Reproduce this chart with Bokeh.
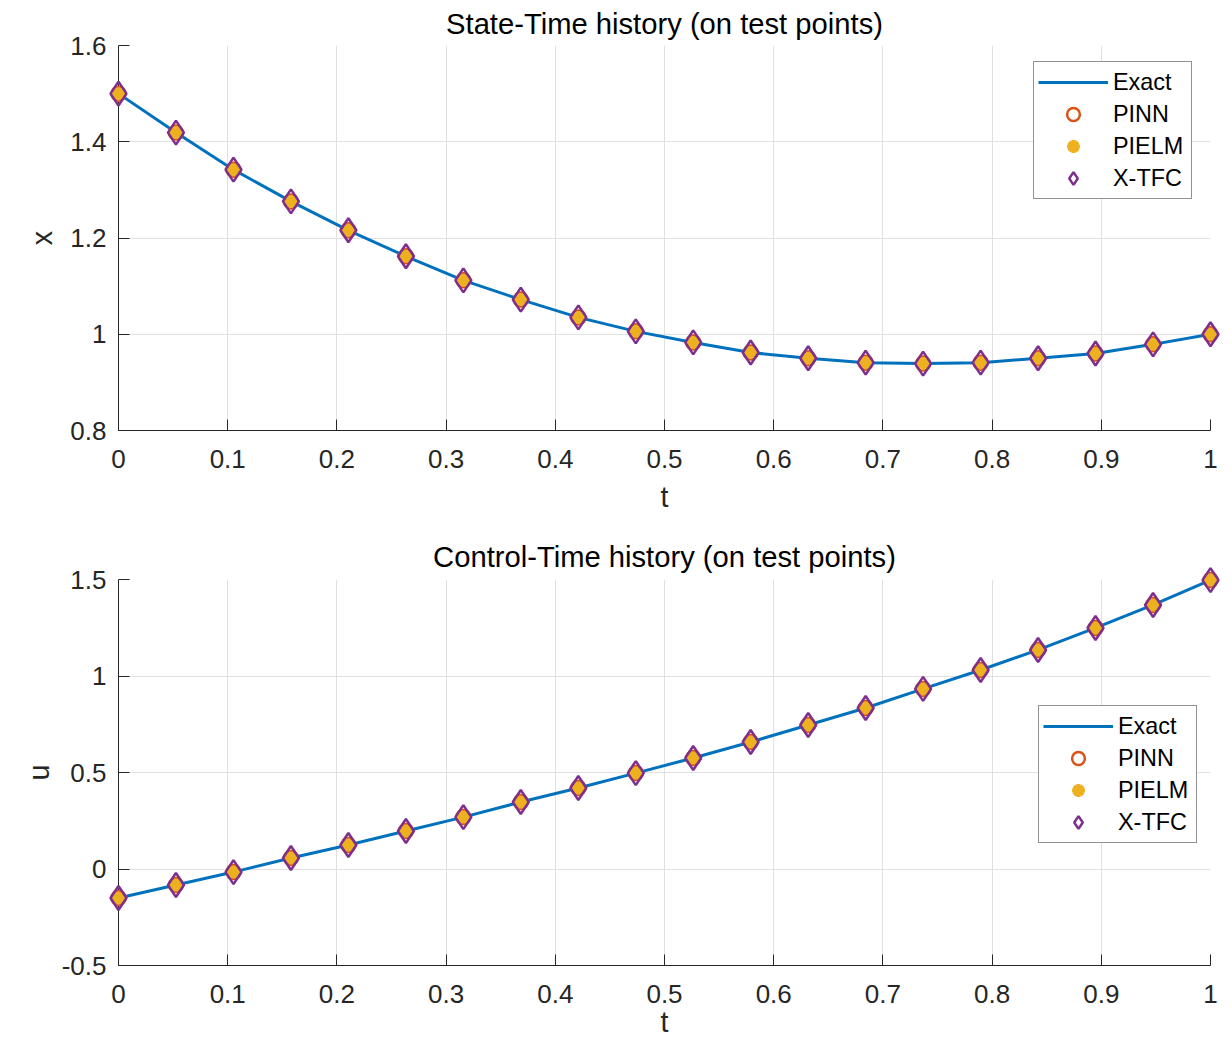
from bokeh.plotting import figure
from bokeh.layouts import column
from bokeh.models import FixedTicker, Legend, LegendItem, Range1d
from bokeh.embed import file_html
from bokeh.resources import INLINE

# ---------------- data ----------------
t = [0.0, 0.0526, 0.1053, 0.1579, 0.2105, 0.2632, 0.3158, 0.3684, 0.4211, 0.4737,
     0.5263, 0.5789, 0.6316, 0.6842, 0.7368, 0.7895, 0.8421, 0.8947, 0.9474, 1.0]

x_exact = [1.500, 1.419, 1.342, 1.276, 1.216, 1.162, 1.112, 1.072, 1.035, 1.006,
           0.983, 0.962, 0.950, 0.941, 0.939, 0.941, 0.950, 0.960, 0.979, 1.000]
x_pinn = [1.500, 1.419, 1.342, 1.276, 1.216, 1.162, 1.112, 1.072, 1.035, 1.006,
          0.983, 0.962, 0.950, 0.941, 0.939, 0.941, 0.950, 0.960, 0.979, 1.000]
x_pielm = [1.500, 1.419, 1.342, 1.276, 1.216, 1.162, 1.112, 1.072, 1.035, 1.006,
           0.983, 0.962, 0.950, 0.941, 0.939, 0.941, 0.950, 0.960, 0.979, 1.000]
x_xtfc = [1.500, 1.419, 1.342, 1.276, 1.216, 1.162, 1.112, 1.072, 1.035, 1.006,
          0.983, 0.962, 0.950, 0.941, 0.939, 0.941, 0.950, 0.960, 0.979, 1.000]

u_exact = [-0.150, -0.083, -0.016, 0.057, 0.124, 0.197, 0.269, 0.347, 0.420, 0.497,
           0.575, 0.658, 0.746, 0.834, 0.933, 1.031, 1.135, 1.249, 1.368, 1.497]
u_pinn = [-0.150, -0.083, -0.016, 0.057, 0.124, 0.197, 0.269, 0.347, 0.420, 0.497,
          0.575, 0.658, 0.746, 0.834, 0.933, 1.031, 1.135, 1.249, 1.368, 1.497]
u_pielm = [-0.150, -0.083, -0.016, 0.057, 0.124, 0.197, 0.269, 0.347, 0.420, 0.497,
           0.575, 0.658, 0.746, 0.834, 0.933, 1.031, 1.135, 1.249, 1.368, 1.497]
u_xtfc = [-0.150, -0.083, -0.016, 0.057, 0.124, 0.197, 0.269, 0.347, 0.420, 0.497,
          0.575, 0.658, 0.746, 0.834, 0.933, 1.031, 1.135, 1.249, 1.368, 1.497]

t_ticks = [0, 0.1, 0.2, 0.3, 0.4, 0.5, 0.6, 0.7, 0.8, 0.9, 1]
t_tick_labels = ["0", "0.1", "0.2", "0.3", "0.4", "0.5", "0.6", "0.7", "0.8", "0.9", "1"]
x_ticks = [0.8, 1.0, 1.2, 1.4, 1.6]
x_tick_labels = ["0.8", "1", "1.2", "1.4", "1.6"]
u_ticks = [-0.5, 0, 0.5, 1.0, 1.5]
u_tick_labels = ["-0.5", "0", "0.5", "1", "1.5"]

series_names = ["Exact", "PINN", "PIELM", "X-TFC"]

# ---------------- style ----------------
FONT = "Liberation Sans"
C_LINE = "#0072BD"
C_PINN = "#D95319"
C_PIELM = "#EDB120"
C_XTFC = "#7E2F8E"
AX = "#262626"
GRID = "#e1e1e1"


def make_fig(title, ylabel, yr, yticks, ylabels, ye, yp, ypl, yx,
             height, top, bottom, leg_loc, ylabel_standoff, xlabel_standoff, title_standoff):
    p = figure(width=1232, height=height, x_range=Range1d(0, 1), y_range=Range1d(*yr),
               output_backend="svg", toolbar_location=None,
               min_border_left=118, min_border_right=22,
               min_border_top=top, min_border_bottom=bottom, title=title)
    p.outline_line_color = None
    p.background_fill_color = "white"
    p.border_fill_color = "white"
    p.title.align = "center"
    p.title.text_font = FONT
    p.title.text_font_size = "29.2px"
    p.title.text_font_style = "normal"
    p.title.text_color = "#000000"
    p.title.standoff = title_standoff

    p.xaxis.ticker = FixedTicker(ticks=t_ticks)
    p.xaxis.major_label_overrides = {k: v for k, v in zip(t_ticks, t_tick_labels)}
    p.yaxis.ticker = FixedTicker(ticks=yticks)
    p.yaxis.major_label_overrides = {k: v for k, v in zip(yticks, ylabels)}

    for ax in (p.xaxis[0], p.yaxis[0]):
        ax.axis_line_color = AX
        ax.axis_line_width = 1
        ax.major_tick_line_color = AX
        ax.major_tick_in = 11
        ax.major_tick_out = 0
        ax.minor_tick_line_color = None
        ax.major_label_text_font = FONT
        ax.major_label_text_font_size = "26px"
        ax.major_label_text_color = AX
        ax.axis_label_text_font = FONT
        ax.axis_label_text_font_size = "28.6px"
        ax.axis_label_text_font_style = "normal"
        ax.axis_label_text_color = AX
    p.xaxis.major_label_standoff = 19
    p.xaxis.axis_label = "t"
    p.xaxis.axis_label_standoff = xlabel_standoff
    p.yaxis.axis_label = ylabel
    p.yaxis.major_label_standoff = 12
    p.yaxis.axis_label_standoff = ylabel_standoff

    p.xgrid.grid_line_color = GRID
    p.ygrid.grid_line_color = GRID

    r_line = p.line(t, ye, line_color=C_LINE, line_width=3)
    r_pinn = p.scatter(t, yp, marker="circle", size=14, line_color=C_PINN,
                       fill_color=None, line_width=2.5, level="overlay")
    r_pielm = p.scatter(t, ypl, marker="asterisk", size=13, line_color=C_PIELM,
                        line_width=4, level="overlay")
    r_xtfc = p.scatter(t, yx, marker="diamond", size=24, line_color=C_XTFC,
                       fill_color=None, line_width=2.5, level="overlay")

    legend = Legend(items=[LegendItem(label=n, renderers=[r]) for n, r in
                           zip(series_names, [r_line, r_pinn, r_pielm, r_xtfc])],
                    location=leg_loc)
    legend.glyph_width = 70
    legend.glyph_height = 32
    legend.label_height = 32
    legend.label_width = 74
    legend.label_standoff = 5
    legend.padding = 4
    legend.spacing = 0
    legend.margin = 0
    legend.border_line_color = AX
    legend.border_line_width = 1
    legend.background_fill_color = "white"
    legend.background_fill_alpha = 1
    legend.label_text_font = FONT
    legend.label_text_font_size = "23.4px"
    legend.label_text_color = "#000000"
    p.add_layout(legend)
    return p


p1 = make_fig("State-Time history (on test points)", "x", (0.8, 1.6), x_ticks, x_tick_labels,
              x_exact, x_pinn, x_pielm, x_xtfc,
              height=522, top=45, bottom=92, leg_loc=(915, 231),
              ylabel_standoff=9, xlabel_standoff=10, title_standoff=11)
p2 = make_fig("Control-Time history (on test points)", "u", (-0.5, 1.5), u_ticks, u_tick_labels,
              u_exact, u_pinn, u_pielm, u_xtfc,
              height=518, top=57, bottom=75, leg_loc=(920, 122),
              ylabel_standoff=4, xlabel_standoff=0, title_standoff=14)

layout = column(p1, p2, spacing=0)
open("out.html", "w").write(file_html(layout, INLINE))
